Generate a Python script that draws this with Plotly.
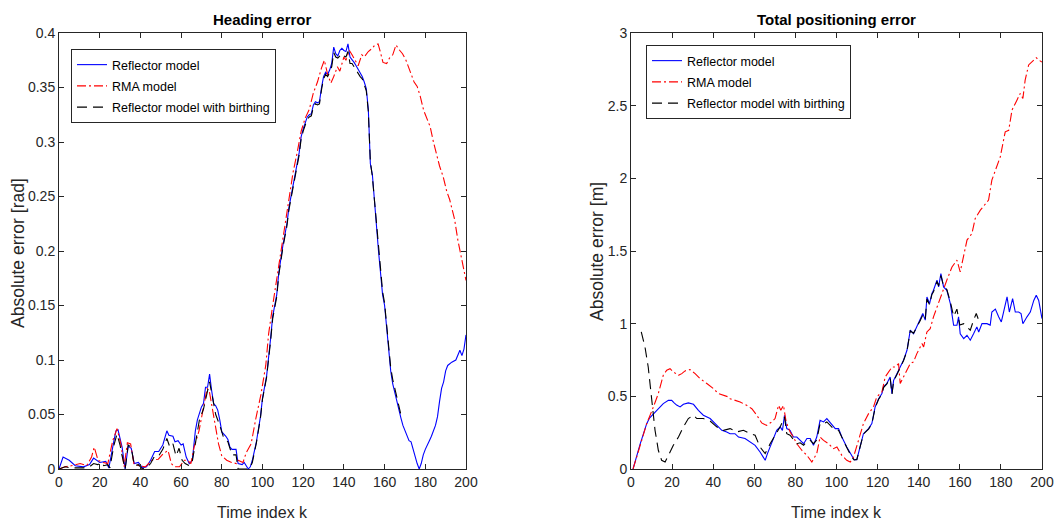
import plotly.graph_objects as go

# ---------------- data ----------------
# Heading error [rad]
heading_reflector = [
    (0, 0), (2, 0.011), (5, 0.008), (8, 0.003), (12, 0.002), (15, 0.004), (17, 0.010), (20, 0.006),
    (23, 0.007), (24.5, 0.001), (27, 0.026), (28, 0.035), (29, 0.036), (31, 0.02), (32.5, 0),
    (34, 0.021), (35.5, 0.019), (37, 0.005), (39, 0.006), (41, 0.001), (43, 0.002), (45, 0.008),
    (47, 0.016), (49, 0.016), (51, 0.022), (53, 0.035), (54, 0.031), (56, 0.030), (57, 0.025),
    (58.5, 0.026), (60, 0.022), (61, 0.023), (62.5, 0.011), (64, 0.005), (65.5, 0.008), (67, 0.035),
    (68, 0.045), (70, 0.057), (71, 0.060), (72, 0.075), (73, 0.075), (74, 0.087), (75, 0.072),
    (76, 0.060), (77, 0.058), (78, 0.054), (79, 0.045), (80, 0.034), (82, 0.030), (83, 0.027),
    (84, 0.020), (85, 0.018), (87, 0.018), (88, 0.005), (90, 0.004), (91, 0.006), (92, 0.003),
    (93, 0), (94, 0.002), (95, 0.008), (97, 0.025), (99, 0.048), (100, 0.065), (101, 0.075),
    (102, 0.085), (104, 0.12), (105, 0.14), (107, 0.16), (108, 0.18), (110, 0.205), (112, 0.225),
    (113, 0.24), (115, 0.262), (116, 0.27), (117, 0.28), (118, 0.29), (119, 0.305), (120, 0.312),
    (121, 0.318), (122, 0.323), (123, 0.325), (124, 0.326), (125, 0.334), (126, 0.337), (127, 0.336),
    (128, 0.337), (129, 0.35), (130, 0.36), (131, 0.364), (132, 0.362), (133, 0.366), (134, 0.372),
    (135, 0.387), (136, 0.381), (137, 0.379), (138, 0.384), (139, 0.386), (140, 0.384), (141, 0.383),
    (142, 0.39), (143, 0.378), (144, 0.376), (145, 0.373), (146, 0.370), (147, 0.367), (148, 0.363),
    (149, 0.360), (150, 0.355), (151, 0.349), (152, 0.33), (153, 0.28), (154, 0.27), (155, 0.245),
    (156, 0.22), (157, 0.2), (158, 0.18), (159, 0.16), (160, 0.15), (161, 0.13), (162, 0.11),
    (163, 0.09), (164, 0.078), (165, 0.07), (166, 0.062), (167, 0.052), (168, 0.047), (169, 0.04),
    (170, 0.035), (171, 0.03), (172, 0.026), (173, 0.025), (174, 0.018), (175, 0.01), (176, 0.005),
    (177, 0), (178, 0.005), (179, 0.013), (180, 0.018), (182, 0.026), (183, 0.03), (185, 0.04),
    (186, 0.048), (187, 0.062), (188, 0.074), (189, 0.08), (190, 0.09), (191, 0.095), (193, 0.098),
    (195, 0.1), (196, 0.105), (197, 0.109), (198, 0.104), (199, 0.11), (200, 0.123),
]
heading_rma = [
    (0, 0), (3, 0.002), (6, 0.003), (8, 0.004), (10.4, 0.005), (13.6, 0.003), (16, 0.011),
    (17.3, 0.02), (19.2, 0.008), (21.6, 0.006), (24, 0.005), (26.4, 0.026), (28.5, 0.037),
    (30.4, 0.023), (32, 0.002), (33.6, 0.024), (35.2, 0.023), (36.8, 0.005), (39.2, 0.003),
    (42.4, 0.002), (45.6, 0.008), (48.8, 0.009), (51.2, 0.014), (53.6, 0.017), (55.2, 0.005),
    (56.8, 0.002), (59.2, 0.002), (61.6, 0.008), (63.2, 0.008), (64.8, 0.005), (66.4, 0.02),
    (68.8, 0.035), (71.2, 0.059), (72.8, 0.074), (73.9, 0.071), (75.2, 0.056), (76.8, 0.038),
    (78.4, 0.023), (80, 0.012), (82.4, 0.008), (84.8, 0.006), (87.2, 0.005), (88, 0.008),
    (90.4, 0.006), (92, 0.015), (94.4, 0.023), (96.8, 0.047), (99.2, 0.068), (101.6, 0.095),
    (103, 0.124), (105, 0.15), (107, 0.175), (109, 0.2), (111, 0.225), (113, 0.25), (115, 0.272),
    (117, 0.29), (119, 0.31), (121, 0.322), (123, 0.33), (125, 0.345), (127, 0.355), (129, 0.368),
    (130.4, 0.375), (132, 0.362), (133.6, 0.354), (135, 0.36), (136.8, 0.369), (138, 0.365),
    (140, 0.378), (141, 0.375), (142.7, 0.384), (144, 0.38), (145.6, 0.375), (147, 0.37),
    (148.8, 0.38), (150, 0.378), (152, 0.383), (154, 0.386), (155.2, 0.389), (156.8, 0.39),
    (158, 0.382), (159.2, 0.373), (161, 0.372), (162.4, 0.377), (164, 0.38), (165.6, 0.389),
    (167, 0.385), (168.8, 0.381), (170.5, 0.375), (172.8, 0.363), (174.5, 0.355), (176, 0.351),
    (177.5, 0.342), (179.2, 0.329), (181, 0.32), (182.4, 0.314), (184, 0.3), (185.6, 0.287),
    (187, 0.278), (188.8, 0.268), (190.5, 0.255), (192, 0.247), (193, 0.24), (194.4, 0.229),
    (196, 0.21), (197.5, 0.197), (199, 0.182), (200, 0.173),
]
heading_birthing = [
    (0, 0), (3, 0.002), (6, 0.001), (9, 0.001), (12, 0.001), (15, 0.002), (17, 0.005), (19, 0.004),
    (21, 0.006), (22, 0.003), (24, 0.004), (25, 0.001), (27, 0.022), (28.5, 0.032), (30, 0.022),
    (31, 0.012), (32.5, 0), (34, 0.022), (35.5, 0.02), (37, 0.003), (39, 0.004), (41, 0), (43, 0.001),
    (45, 0.005), (47, 0.012), (49, 0.012), (51, 0.018), (53, 0.028), (54.5, 0.02), (56, 0.023),
    (57.5, 0.012), (59, 0.019), (60.5, 0.008), (62, 0.005), (64, 0.003), (65.5, 0.007), (67, 0.025),
    (69, 0.045), (71, 0.055), (73, 0.07), (74, 0.08), (75.5, 0.065), (77, 0.05), (79, 0.04),
    (81, 0.028), (83, 0.025), (85, 0.013), (87, 0.013), (88, 0), (92, 0), (94, 0.002), (95, 0.006),
    (97, 0.024), (99, 0.047), (100, 0.064), (101, 0.074), (102, 0.084), (104, 0.118), (105, 0.138),
    (107, 0.158), (108, 0.178), (110, 0.203), (112, 0.223), (113, 0.238), (115, 0.26), (116, 0.268),
    (117, 0.278), (118, 0.288), (119, 0.303), (120, 0.31), (121, 0.316), (122, 0.321), (123, 0.323),
    (124, 0.324), (125, 0.332), (126, 0.335), (127, 0.334), (128, 0.335), (129, 0.348), (130, 0.358),
    (131, 0.362), (132, 0.36), (133, 0.364), (134, 0.369), (135, 0.382), (136, 0.378), (137, 0.377),
    (138, 0.379), (139, 0.381), (140, 0.379), (141, 0.378), (142, 0.383), (143, 0.372), (144, 0.372),
    (145, 0.369), (146, 0.365), (147, 0.362), (148, 0.36), (149, 0.358), (150, 0.353), (151, 0.347),
    (152, 0.328), (153, 0.282), (154, 0.268), (155, 0.247), (156, 0.222), (157, 0.203), (158, 0.183),
    (159, 0.163), (160, 0.152), (161, 0.133), (162, 0.113), (163, 0.093), (164, 0.082), (165, 0.074),
    (166, 0.066), (167, 0.057), (168, 0.05),
]

# Total positioning error [m]
position_reflector = [
    (1, 0), (2.5, 0.08), (4.4, 0.17), (6, 0.24), (7.6, 0.31), (9, 0.35), (10.9, 0.38), (13.3, 0.415),
    (15.7, 0.45), (18.2, 0.473), (19.8, 0.472), (21, 0.455), (22.2, 0.44), (23.9, 0.427), (25.5, 0.445),
    (27.9, 0.455), (30.4, 0.445), (32.8, 0.404), (35.2, 0.37), (38.5, 0.347), (41.7, 0.30),
    (44.2, 0.266), (46.6, 0.255), (48.2, 0.243), (50.6, 0.243), (52.3, 0.22), (55.5, 0.21),
    (58, 0.186), (60.4, 0.163), (62.8, 0.117), (65.3, 0.06), (66.4, 0.106), (68.5, 0.186),
    (70.9, 0.266), (72.6, 0.29), (73.7, 0.266), (74.7, 0.37), (75.8, 0.278), (77.4, 0.266),
    (79, 0.22), (80.7, 0.22), (82.3, 0.2), (84, 0.174), (85.6, 0.21), (87.2, 0.21), (88.8, 0.163),
    (90.4, 0.22), (92, 0.335), (93.7, 0.324), (95.3, 0.347), (96.9, 0.317), (99.4, 0.278),
    (101, 0.278), (102.6, 0.22), (105, 0.151), (107.5, 0.083), (108.6, 0.064), (109.9, 0.064),
    (111.5, 0.151), (113.1, 0.243), (115.6, 0.278), (117.2, 0.312), (118.8, 0.427), (120.5, 0.484),
    (122.1, 0.519), (122.9, 0.565), (124.5, 0.588), (126.1, 0.633), (127, 0.519), (127.8, 0.61),
    (129.4, 0.656), (131, 0.7), (132.6, 0.748), (134.3, 0.817), (135.9, 0.955), (137.5, 0.93),
    (139.1, 0.978), (140.7, 1.024), (142, 1.07), (143.2, 1.024), (144, 1.184), (145.3, 1.138),
    (146.4, 1.207), (147.2, 1.23), (148.9, 1.3), (149.7, 1.253), (150.8, 1.345), (152.1, 1.253),
    (153.7, 1.23), (155.4, 1.138), (157, 0.989), (158.6, 0.989), (159.4, 1.047), (160.2, 0.93),
    (161.9, 0.897), (163.5, 0.92), (165.1, 0.886), (166.7, 0.93), (168.3, 0.978), (169.2, 0.943),
    (170.8, 1.0), (173.2, 1.0), (174.8, 0.99), (175.6, 1.08), (177.3, 1.1), (178.9, 1.047),
    (180.2, 1.012), (181.3, 1.08), (183, 1.184), (184.1, 1.08), (185.7, 1.172), (187, 1.08),
    (188.6, 1.08), (189.8, 1.07), (190.7, 1.0), (192.7, 1.047), (194.3, 1.08), (196, 1.16),
    (197.2, 1.196), (198.4, 1.16), (200, 1.035),
]
position_rma = [
    (1, 0), (2.5, 0.07), (4.4, 0.151), (7.6, 0.31), (10.9, 0.427), (13.3, 0.519), (15.7, 0.645),
    (17.4, 0.68), (19, 0.69), (20.6, 0.668), (23.1, 0.645), (24.7, 0.656), (26.3, 0.675), (28.7, 0.684),
    (31.2, 0.656), (33.6, 0.622), (36.9, 0.588), (40.1, 0.553), (42.5, 0.519), (45, 0.507),
    (47.4, 0.496), (48.2, 0.484), (50.6, 0.473), (53.1, 0.461), (56.3, 0.438), (58.8, 0.415),
    (61.2, 0.37), (63.6, 0.317), (66, 0.3), (68.5, 0.324), (70.1, 0.347), (71.8, 0.438), (72.9, 0.404),
    (74.2, 0.438), (75.5, 0.324), (77.4, 0.255), (79, 0.22), (80.7, 0.174), (83.1, 0.129),
    (85.6, 0.094), (88, 0.048), (90.4, 0.106), (92, 0.22), (93.7, 0.197), (96.1, 0.174), (98.5, 0.14),
    (100.2, 0.151), (102.6, 0.094), (105, 0.06), (106.7, 0.048), (108.3, 0.083), (110.7, 0.197),
    (113.1, 0.312), (115.6, 0.381), (118, 0.427), (119.6, 0.496), (122.1, 0.53), (123.7, 0.633),
    (125.3, 0.668), (127, 0.702), (128.6, 0.702), (130.2, 0.725), (131, 0.588), (132.6, 0.633),
    (134.3, 0.68), (135.9, 0.725), (137.5, 0.737), (139.1, 0.794), (141.6, 0.863), (142.4, 0.84),
    (144, 0.943), (145.6, 0.966), (147.2, 1.047), (148.9, 1.115), (151.3, 1.207), (153.7, 1.3),
    (156.2, 1.39), (158.6, 1.437), (160.2, 1.356), (161.9, 1.483), (163.5, 1.575), (165.9, 1.62),
    (167.5, 1.724), (170, 1.781), (172.4, 1.827), (174, 1.85), (175.6, 1.988), (177.3, 2.056),
    (179.7, 2.148), (181.3, 2.263), (182.1, 2.32), (183.8, 2.33), (185.4, 2.47), (187.8, 2.538),
    (189.4, 2.584), (190.7, 2.55), (191.8, 2.676), (193.5, 2.78), (196, 2.814), (197.2, 2.83),
    (198.4, 2.814), (200, 2.8),
]
position_birthing = [
    (5, 0.943), (6.8, 0.84), (8.4, 0.7), (10.1, 0.473), (11.7, 0.266), (13.3, 0.129), (14.9, 0.06),
    (16.6, 0.048), (18.2, 0.094), (20.6, 0.163), (23.1, 0.22), (25.5, 0.29), (27.9, 0.347),
    (30.4, 0.37), (32, 0.347), (35.2, 0.347), (38.5, 0.33), (41.7, 0.29), (45, 0.266), (48.2, 0.278),
    (51.5, 0.255), (54.7, 0.266), (58, 0.243), (60.4, 0.232), (62.8, 0.151), (64.6, 0.117),
    (65.3, 0.106), (67.7, 0.174), (70.9, 0.255), (72.6, 0.29), (74.7, 0.358), (75.8, 0.243),
    (77.4, 0.232), (80.7, 0.174), (82.3, 0.18), (84, 0.163), (85.6, 0.19), (87.2, 0.197),
    (88.8, 0.174), (90.4, 0.2), (92, 0.312), (93.7, 0.31), (95.3, 0.324), (96.9, 0.3), (98.5, 0.278),
    (101, 0.266), (102.6, 0.215), (105, 0.148), (107.5, 0.08), (108.6, 0.062), (109.9, 0.066),
    (111.5, 0.15), (113.1, 0.24), (115.6, 0.275), (117.2, 0.31), (118.8, 0.42), (120.5, 0.48),
    (122.1, 0.515), (122.9, 0.56), (124.5, 0.585), (126.1, 0.628), (127, 0.515), (127.8, 0.605),
    (129.4, 0.65), (131, 0.695), (132.6, 0.745), (134.3, 0.812), (135.9, 0.95), (137.5, 0.935),
    (139.1, 0.975), (140.7, 1.02), (142, 1.06), (143.2, 1.03), (144, 1.17), (145.3, 1.13),
    (146.4, 1.2), (147.2, 1.22), (148.9, 1.29), (149.7, 1.26), (150.8, 1.33), (152.1, 1.26),
    (153.7, 1.235), (155.4, 1.15), (157, 1.05), (158.6, 1.1), (160, 0.99), (161.9, 1.0),
    (163.5, 0.978), (165.1, 0.955), (166.7, 1.024), (168, 1.07), (169.2, 1.024),
]

x_ticks = [0, 20, 40, 60, 80, 100, 120, 140, 160, 180, 200]
heading_ticks = [0, 0.05, 0.1, 0.15, 0.2, 0.25, 0.3, 0.35, 0.4]
heading_tick_text = ["0", "0.05", "0.1", "0.15", "0.2", "0.25", "0.3", "0.35", "0.4"]
position_ticks = [0, 0.5, 1, 1.5, 2, 2.5, 3]
position_tick_text = ["0", "0.5", "1", "1.5", "2", "2.5", "3"]
series_names = ["Reflector model", "RMA model", "Reflector model with birthing"]

# ---------------- figure ----------------
W, H = 1057, 522
FONT = "Liberation Sans, Arial, sans-serif"
AX = "#262626"

def px_x(p):
    return p / W

def px_y(p):
    return 1 - p / H

styles = [
    dict(color="#0000ff", width=1.1, dash="solid"),
    dict(color="#ff0000", width=1.1, dash="9px,3px,2px,3px"),
    dict(color="#000000", width=1.1, dash="10px,6px"),
]

fig = go.Figure()

def add_panel(series, xa, ya, legend):
    for name, data, st in zip(series_names, series, styles):
        fig.add_trace(go.Scatter(
            x=[p[0] for p in data], y=[p[1] for p in data], mode="lines", name=name,
            line=st, xaxis=xa, yaxis=ya, legend=legend, legendgroup=legend + name,
        ))

add_panel([heading_reflector, heading_rma, heading_birthing], "x", "y", "legend")
add_panel([position_reflector, position_rma, position_birthing], "x2", "y2", "legend2")

axis_common = dict(
    ticks="inside", ticklen=5, tickcolor=AX, showline=True, linecolor=AX, linewidth=1,
    mirror="ticks", showgrid=False, zeroline=False, automargin=False,
    tickfont=dict(family=FONT, size=14, color=AX),
)

legend_common = dict(
    bgcolor="white", bordercolor=AX, borderwidth=1,
    font=dict(family=FONT, size=12.5, color="#000000"),
    xanchor="left", yanchor="top", itemwidth=30, tracegroupgap=2,
)

fig.update_layout(
    width=W, height=H, margin=dict(l=0, r=0, t=0, b=0, autoexpand=False), autosize=False,
    paper_bgcolor="white", plot_bgcolor="white",
    xaxis=dict(domain=[px_x(59), px_x(466)], range=[0, 200], tickvals=x_ticks, anchor="y", **axis_common),
    yaxis=dict(domain=[px_y(469), px_y(33)], range=[0, 0.4], tickvals=heading_ticks,
               ticktext=heading_tick_text, anchor="x", **axis_common),
    xaxis2=dict(domain=[px_x(631), px_x(1042)], range=[0, 200], tickvals=x_ticks, anchor="y2", **axis_common),
    yaxis2=dict(domain=[px_y(469), px_y(33)], range=[0, 3], tickvals=position_ticks,
                ticktext=position_tick_text, anchor="x2", **axis_common),
    legend=dict(x=px_x(71), y=px_y(49), **legend_common),
    legend2=dict(x=px_x(646), y=px_y(45), **legend_common),
    showlegend=True,
)

annots = [
    dict(text="<b>Heading error</b>", x=px_x(262.5), y=px_y(19.5), font=dict(family=FONT, size=15, color="#000")),
    dict(text="<b>Total positioning error</b>", x=px_x(836.5), y=px_y(19.5), font=dict(family=FONT, size=15, color="#000")),
    dict(text="Time index k", x=px_x(262.5), y=px_y(512), font=dict(family=FONT, size=16, color=AX)),
    dict(text="Time index k", x=px_x(836.5), y=px_y(512), font=dict(family=FONT, size=16, color=AX)),
    dict(text="Absolute error [rad]", x=px_x(18), y=px_y(253), textangle=-90, font=dict(family=FONT, size=17.5, color=AX)),
    dict(text="Absolute error [m]", x=px_x(597), y=px_y(252), textangle=-90, font=dict(family=FONT, size=17.5, color=AX)),
]
for a in annots:
    fig.add_annotation(xref="paper", yref="paper", showarrow=False, xanchor="center", yanchor="middle", **a)

fig.write_html("out.html")
